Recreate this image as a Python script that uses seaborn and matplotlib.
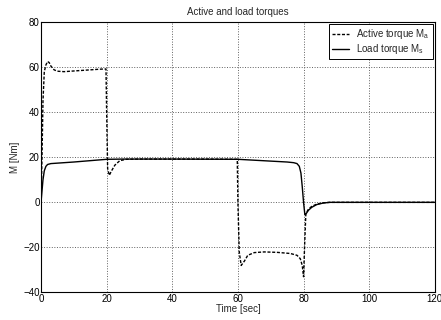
import numpy as np
import pandas as pd
import matplotlib
matplotlib.use("Agg")
import matplotlib.pyplot as plt
import seaborn as sns

# active torque M_a (dashed)
time_a = [0, 0.3, 0.6, 1.0, 1.5, 2.0, 2.5, 3.0, 4.0, 5.0, 7.0, 10, 14, 18, 19.8,
          20.0, 20.3, 20.8, 21.5, 22.5, 24, 26, 30, 40, 50, 59.8,
          60.0, 60.4, 61.0, 62, 63, 65, 68, 72, 76, 78, 79, 79.6, 80.0,
          80.3, 80.7, 81.5, 82.5, 84, 86, 88, 95, 110, 120]
torque_a = [0, 20, 45, 58, 61, 62.5, 62, 60.5, 58.8, 58.2, 58, 58.3, 58.7, 59.1, 59.2,
            40, 15, 12, 14, 16.5, 18.5, 19.1, 19.2, 19.2, 19.2, 19.1,
            0, -22, -28, -26, -23.5, -22.3, -22, -22.2, -22.7, -23.5, -25, -28, -33,
            -20, -5, -3, -1.8, -0.8, -0.2, 0, 0, 0, 0]

# load torque M_s (solid)
time_s = [0, 0.3, 0.6, 1.0, 1.5, 2.0, 3.0, 4.0, 6, 10, 15, 20, 25, 40, 60,
          65, 70, 75, 77, 78, 78.7, 79.2, 79.6, 80.0, 80.4, 80.8, 81.5, 82.5,
          84, 86, 88, 95, 120]
torque_s = [0, 5, 10, 14, 16, 16.8, 17.2, 17.3, 17.5, 17.9, 18.5, 19.1, 19.2, 19.2, 19.1,
            18.7, 18.3, 17.9, 17.6, 17.2, 16, 13, 7, 0, -5.5, -5, -3.5, -2.2,
            -1, -0.3, 0, 0, 0]

sns.set_style("white")
plt.rcParams["font.family"] = ["Liberation Sans", "DejaVu Sans"]
plt.rcParams["mathtext.fontset"] = "custom"
plt.rcParams["mathtext.rm"] = "Liberation Sans"
plt.rcParams["mathtext.it"] = "Liberation Sans"

fig = plt.figure(figsize=(4.41, 3.2), dpi=100)
ax = fig.add_axes([0.093, 0.086, 0.893, 0.845])

sns.lineplot(x=time_a, y=torque_a, ax=ax, color="black", linewidth=1.0,
             linestyle=(0, (2.2, 1.2)), label="Active torque M$_a$")
sns.lineplot(x=time_s, y=torque_s, ax=ax, color="black", linewidth=1.0,
             label="Load torque M$_s$")

ax.set_xlim(0, 120)
ax.set_ylim(-40, 80)
ax.set_xticks(range(0, 121, 20))
ax.set_yticks(range(-40, 81, 20))
ax.grid(True, linestyle=":", color="#606060", linewidth=0.7)
ax.tick_params(direction="in", length=3, labelsize=7, pad=1, colors="black")
for s in ax.spines.values():
    s.set_color("black")
    s.set_linewidth(0.8)

ax.set_title("Active and load torques", fontsize=7, pad=5)
ax.set_xlabel("Time [sec]", fontsize=7, labelpad=0)
ax.set_ylabel("M [Nm]", fontsize=7, labelpad=2)

leg = ax.legend(loc="upper right", fontsize=7, frameon=True, fancybox=False,
                handlelength=1.7, handletextpad=0.8, borderaxespad=0.2,
                borderpad=0.3, labelspacing=0.15, framealpha=1)
leg.get_frame().set_edgecolor("black")
leg.get_frame().set_linewidth(0.7)

fig.savefig("out.png", dpi=100)
